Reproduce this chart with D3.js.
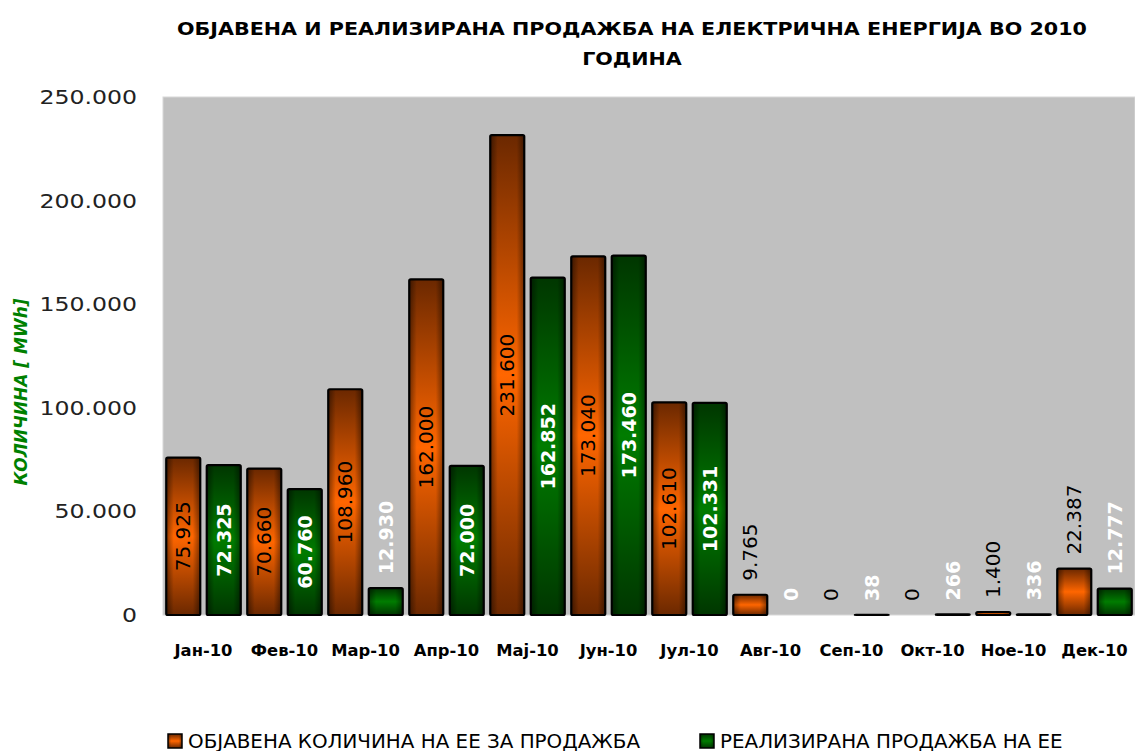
<!DOCTYPE html>
<html>
  <head>
    <meta charset="utf-8" />
    <script src="https://d3js.org/d3.v7.min.js"></script>
    <style>
      body { margin: 0; background: #ffffff; }
      text { font-family: "DejaVu Sans", Verdana, sans-serif; }
    </style>
  </head>
  <body>
    <svg id="chart"></svg>
    <script>
      // Chart data
      var months = ["Јан-10", "Фев-10", "Мар-10", "Апр-10", "Мај-10", "Јун-10",
                    "Јул-10", "Авг-10", "Сеп-10", "Окт-10", "Ное-10", "Дек-10"];
      var announced = [75925, 70660, 108960, 162000, 231600, 173040,
                       102610, 9765, 0, 0, 1400, 22387];
      var realized = [72325, 60760, 12930, 72000, 162852, 173460,
                      102331, 0, 38, 266, 336, 12777];
      var seriesNames = ["ОБЈАВЕНА КОЛИЧИНА НА ЕЕ ЗА ПРОДАЖБА", "РЕАЛИЗИРАНА ПРОДАЖБА НА ЕЕ"];
      var yTicks = [0, 50000, 100000, 150000, 200000, 250000];
      var titleLines = ["ОБЈАВЕНА И РЕАЛИЗИРАНА ПРОДАЖБА НА ЕЛЕКТРИЧНА ЕНЕРГИЈА ВО 2010", "ГОДИНА"];
      var yTitle = "КОЛИЧИНА [ MWh]";

      var width = 1135;
      var height = 751;
      var plot = { left: 163, right: 1135, top: 97, bottom: 615 };

      var svg = d3.select("#chart").attr("width", width).attr("height", height);

      // number format with dots as thousands separator
      var locale = d3.formatLocale({ decimal: ",", thousands: ".", grouping: [3], currency: ["", ""] });
      var fmt = locale.format(",.0f");

      // stretch text horizontally so it covers the wanted width
      function fitWidth(sel, k) {
        sel.each(function () {
          var w = this.getComputedTextLength();
          d3.select(this).attr("textLength", w * k).attr("lengthAdjust", "spacingAndGlyphs");
        });
      }

      // Gradients (dark edges, bright centre like the Excel fill)
      var defs = svg.append("defs");
      function vGrad(id, dark, bright) {
        var g = defs.append("linearGradient").attr("id", id)
          .attr("x1", 0).attr("y1", 0).attr("x2", 0).attr("y2", 1);
        g.append("stop").attr("offset", "0%").attr("stop-color", dark);
        g.append("stop").attr("offset", "50%").attr("stop-color", bright);
        g.append("stop").attr("offset", "100%").attr("stop-color", dark);
      }
      vGrad("orangeV", "#6b2800", "#ff6600");
      vGrad("greenV", "#003600", "#007c00");
      var shade = defs.append("linearGradient").attr("id", "shadeH")
        .attr("x1", 0).attr("y1", 0).attr("x2", 1).attr("y2", 0);
      shade.append("stop").attr("offset", "0%").attr("stop-color", "#000").attr("stop-opacity", 0.45);
      shade.append("stop").attr("offset", "22%").attr("stop-color", "#000").attr("stop-opacity", 0);
      shade.append("stop").attr("offset", "78%").attr("stop-color", "#000").attr("stop-opacity", 0);
      shade.append("stop").attr("offset", "100%").attr("stop-color", "#000").attr("stop-opacity", 0.45);

      var fills = ["url(#orangeV)", "url(#greenV)"];
      var labelColors = ["#000000", "#ffffff"];
      var labelWeights = ["normal", "bold"];

      // Scales
      var x0 = d3.scaleBand().domain(months).range([plot.left, plot.right]).padding(0);
      var x1 = d3.scaleBand().domain([0, 1]).range([0, x0.bandwidth()])
        .paddingInner(0.16).paddingOuter(0.08);
      var y = d3.scaleLinear().domain([0, 250000]).range([plot.bottom, plot.top]);

      // Plot background
      svg.append("rect")
        .attr("x", plot.left).attr("y", plot.top)
        .attr("width", plot.right - plot.left).attr("height", plot.bottom - plot.top)
        .attr("fill", "#c0c0c0")
        .attr("stroke", "#d8d8d8").attr("stroke-width", 1);

      // Title
      var title = svg.append("g").selectAll("text")
        .data(titleLines)
        .join("text")
        .attr("x", 632)
        .attr("y", (d, i) => 35 + i * 30)
        .attr("text-anchor", "middle")
        .style("font-size", "18px")
        .style("font-weight", "bold")
        .attr("fill", "#000")
        .text(d => d);
      var tk = 910 / title.node().getComputedTextLength();
      fitWidth(title, tk);

      // Y axis labels
      var yAxis = svg.append("g")
        .attr("transform", `translate(${plot.left}, 0)`)
        .call(d3.axisLeft(y).tickValues(yTicks).tickFormat(fmt).tickSize(0).tickPadding(26));
      yAxis.select(".domain").remove();
      var yLabels = yAxis.selectAll("text")
        .style("font-family", "DejaVu Sans")
        .style("font-size", "20px")
        .attr("fill", "#222");
      var yk = 99 / yAxis.select("text:last-of-type").node().getComputedTextLength();
      yLabels.each(function () {
        var w = this.getComputedTextLength();
        d3.select(this).attr("textLength", w * 1.18).attr("lengthAdjust", "spacingAndGlyphs");
      });

      // Y axis title
      svg.append("text")
        .attr("transform", "translate(27, 392) rotate(-90)")
        .attr("text-anchor", "middle")
        .style("font-size", "17px")
        .style("font-weight", "bold")
        .style("font-style", "italic")
        .attr("fill", "#008000")
        .text(yTitle);

      // X axis labels
      var xLabels = svg.append("g").selectAll("text")
        .data(months)
        .join("text")
        .attr("x", d => x0(d) + x0.bandwidth() / 2)
        .attr("y", 656)
        .attr("text-anchor", "middle")
        .style("font-size", "15px")
        .style("font-weight", "bold")
        .attr("fill", "#000")
        .text(d => d);
      fitWidth(xLabels, 58 / xLabels.node().getComputedTextLength());

      // Bars
      var rows = [];
      months.forEach(function (m, i) {
        rows.push({ month: m, s: 0, v: announced[i] });
        rows.push({ month: m, s: 1, v: realized[i] });
      });

      var bars = svg.append("g").selectAll("g")
        .data(rows.filter(d => d.v > 0))
        .join("g");
      bars.append("rect")
        .attr("x", d => x0(d.month) + x1(d.s))
        .attr("y", d => y(d.v))
        .attr("width", x1.bandwidth())
        .attr("height", d => y(0) - y(d.v))
        .attr("fill", d => fills[d.s]);
      bars.append("rect")
        .attr("x", d => x0(d.month) + x1(d.s))
        .attr("y", d => y(d.v))
        .attr("width", x1.bandwidth())
        .attr("height", d => y(0) - y(d.v))
        .attr("fill", "url(#shadeH)")
        .attr("stroke", "#000")
        .attr("stroke-width", 2.2)
        .attr("rx", 1.5);

      // Data labels (inside the bar when they fit, above otherwise)
      var labels = svg.append("g").selectAll("text")
        .data(rows)
        .join("text")
        .style("font-size", d => d.s === 0 ? "20px" : "19px")
        .style("font-weight", d => labelWeights[d.s])
        .attr("fill", d => labelColors[d.s])
        .attr("dominant-baseline", "central")
        .text(d => fmt(d.v));
      labels.each(function (d) {
        var len = this.getComputedTextLength();
        var cx = x0(d.month) + x1(d.s) + x1.bandwidth() / 2;
        var h = y(0) - y(d.v);
        var sel = d3.select(this);
        if (len + 12 <= h) {
          sel.attr("text-anchor", "middle")
            .attr("transform", `translate(${cx}, ${(y(d.v) + y(0)) / 2}) rotate(-90)`);
        } else {
          sel.attr("text-anchor", "start")
            .attr("transform", `translate(${cx}, ${y(d.v) - 14}) rotate(-90)`);
        }
      });

      // Legend
      var legendX = [168, 700];
      var legend = svg.append("g").selectAll("g")
        .data(seriesNames)
        .join("g")
        .attr("transform", (d, i) => `translate(${legendX[i]}, 734)`);
      legend.append("rect")
        .attr("width", 14).attr("height", 14)
        .attr("fill", (d, i) => fills[i]);
      legend.append("rect")
        .attr("width", 14).attr("height", 14)
        .attr("fill", "url(#shadeH)")
        .attr("stroke", "#000").attr("stroke-width", 1.5);
      var legendText = legend.append("text")
        .attr("x", 20)
        .attr("y", 14)
        .style("font-size", "19px")
        .attr("fill", "#000")
        .text(d => d);
      fitWidth(legendText, 452 / legendText.node().getComputedTextLength());
    </script>
  </body>
</html>
